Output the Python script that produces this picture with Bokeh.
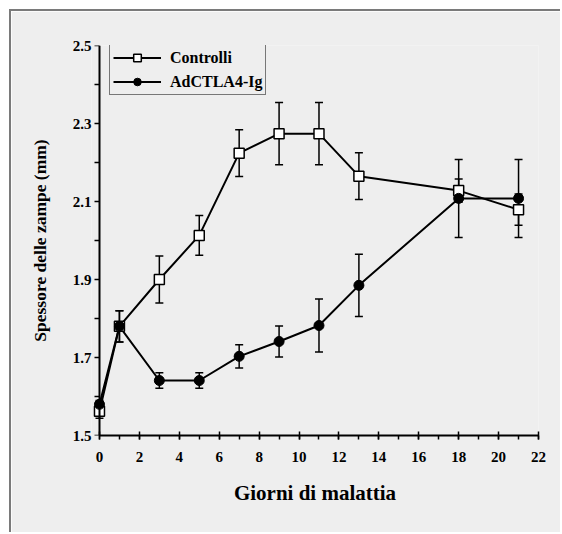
from bokeh.plotting import figure
from bokeh.models import (FixedTicker, Legend, LegendItem, Whisker, TeeHead,
                          ColumnDataSource, Range1d, LinearAxis)
from bokeh.embed import file_html
from bokeh.resources import INLINE

# ---- data ----
days = [0, 1, 3, 5, 7, 9, 11, 13, 18, 21]
controlli = [1.562, 1.78, 1.90, 2.013, 2.224, 2.274, 2.274, 2.165, 2.128, 2.079]
controlli_err = [0.018, 0.04, 0.06, 0.051, 0.06, 0.08, 0.08, 0.06, 0.03, 0.04]
adctla = [1.58, 1.78, 1.641, 1.641, 1.703, 1.741, 1.782, 1.885, 2.108, 2.108]
adctla_err = [0.01, 0.04, 0.02, 0.02, 0.03, 0.04, 0.068, 0.08, 0.10, 0.10]

x_ticks = [0, 2, 4, 6, 8, 10, 12, 14, 16, 18, 20, 22]
x_minor = list(range(0, 23))
y_ticks = [1.5, 1.7, 1.9, 2.1, 2.3, 2.5]
y_tick_labels = ["1.5", "1.7", "1.9", "2.1", "2.3", "2.5"]
y_minor = [1.6, 1.8, 2.0, 2.2, 2.4]

x_title = "Giorni di malattia"
y_title = "Spessore delle zampe (mm)"
labels = ["Controlli", "AdCTLA4-Ig"]

FONT = "Liberation Serif"
BG = "#eeeeee"

p = figure(width=551, height=523,
           x_range=Range1d(-0.4, 22), y_range=Range1d(1.5, 2.5),
           output_backend="svg", toolbar_location=None,
           min_border_left=80, min_border_right=24,
           min_border_top=34, min_border_bottom=99,
           background_fill_color=BG, border_fill_color=BG,
           outline_line_color=None)
p.styles = {"margin-top": "9px", "margin-left": "9px",
            "border-top": "2px solid #7a7a7a", "border-left": "2px solid #7a7a7a"}
p.grid.visible = False

# x axis
xa = p.xaxis[0]
xa.bounds = (0, 22)
xa.ticker = FixedTicker(ticks=x_ticks, minor_ticks=x_minor)
xa.axis_line_width = 2
xa.axis_line_color = "black"
xa.major_tick_line_width = 1.5
xa.minor_tick_line_width = 1.5
xa.major_tick_in = 4
xa.major_tick_out = 4
xa.minor_tick_in = 0
xa.minor_tick_out = 4
xa.major_label_standoff = 12
xa.major_label_text_font = FONT
xa.major_label_text_font_style = "bold"
xa.major_label_text_font_size = "15px"
xa.major_label_text_color = "black"
xa.axis_label = x_title
xa.axis_label_text_font = FONT
xa.axis_label_text_font_style = "bold"
xa.axis_label_text_font_size = "21px"
xa.axis_label_text_color = "black"
xa.axis_label_standoff = 16

# y axis: labels + title only (at the frame's left edge)
ya = p.yaxis[0]
ya.ticker = FixedTicker(ticks=y_ticks, minor_ticks=y_minor)
ya.major_label_overrides = {t: s for t, s in zip(y_ticks, y_tick_labels)}
ya.axis_line_color = None
ya.major_tick_line_color = None
ya.minor_tick_line_color = None
ya.major_tick_in = 0
ya.major_tick_out = 0
ya.minor_tick_in = 0
ya.minor_tick_out = 0
ya.major_label_standoff = 0
ya.major_label_text_font = FONT
ya.major_label_text_font_style = "bold"
ya.major_label_text_font_size = "15px"
ya.major_label_text_color = "black"
ya.axis_label = y_title
ya.axis_label_text_font = FONT
ya.axis_label_text_font_style = "bold"
ya.axis_label_text_font_size = "17.5px"
ya.axis_label_text_color = "black"
ya.axis_label_standoff = 20

# y axis line + ticks placed at day 0
yline = LinearAxis(fixed_location=0,
                   ticker=FixedTicker(ticks=y_ticks, minor_ticks=y_minor),
                   axis_line_width=2, axis_line_color="black",
                   major_tick_line_width=1.5, minor_tick_line_width=1.5,
                   major_tick_in=5, major_tick_out=0,
                   minor_tick_in=5, minor_tick_out=0,
                   major_label_text_font_size="0px",
                   major_label_text_alpha=0, major_label_standoff=0)
p.add_layout(yline, "right")

# error bars
for vals, errs in ((controlli, controlli_err), (adctla, adctla_err)):
    src = ColumnDataSource(dict(
        x=days,
        upper=[v + e for v, e in zip(vals, errs)],
        lower=[v - e for v, e in zip(vals, errs)]))
    w = Whisker(source=src, base="x", upper="upper", lower="lower",
                line_color="black", line_width=1.5,
                upper_head=TeeHead(size=8, line_width=1.5, line_color="black"),
                lower_head=TeeHead(size=8, line_width=1.5, line_color="black"))
    p.add_layout(w)

l1 = p.line(days, controlli, line_color="black", line_width=2)
l2 = p.line(days, adctla, line_color="black", line_width=2)
s1 = p.scatter(days, controlli, marker="square", size=10,
               fill_color="white", line_color="black", line_width=1.5)
s2 = p.scatter(days, adctla, marker="circle", size=10,
               fill_color="black", line_color="black", line_width=1)

legend = Legend(items=[LegendItem(label=labels[0], renderers=[l1, s1]),
                       LegendItem(label=labels[1], renderers=[l2, s2])],
                location=(18, 340))
legend.border_line_color = "black"
legend.border_line_width = 1.5
legend.background_fill_color = BG
legend.background_fill_alpha = 1
legend.label_text_font = FONT
legend.label_text_font_style = "bold"
legend.label_text_font_size = "16px"
legend.label_text_color = "black"
legend.glyph_width = 48
legend.glyph_height = 19
legend.label_height = 19
legend.label_standoff = 9
legend.padding = 3
legend.spacing = 5
legend.margin = 0
p.add_layout(legend)

open("out.html", "w").write(file_html(p, INLINE))
